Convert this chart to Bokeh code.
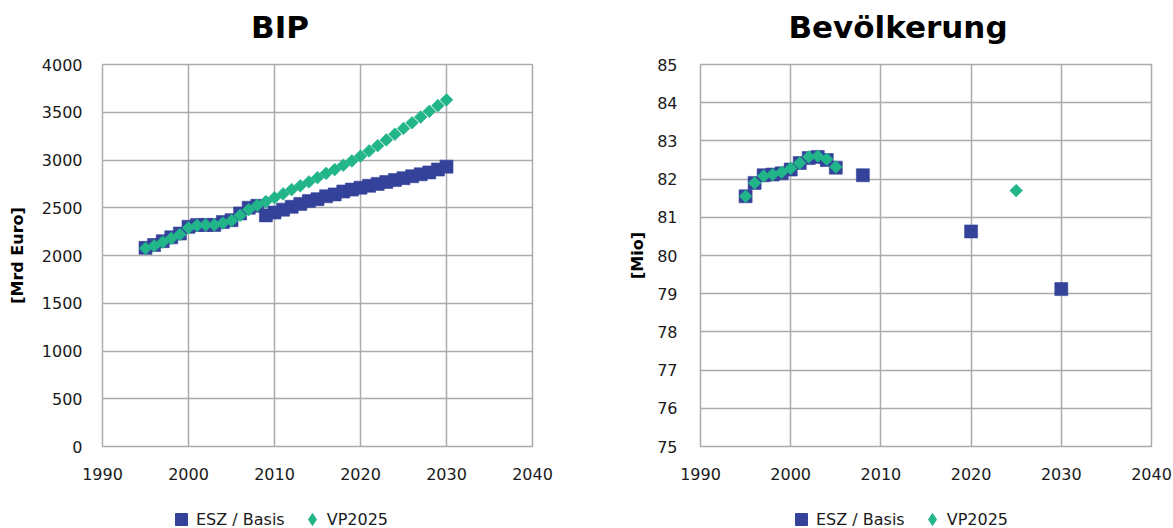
import math
from bokeh.plotting import figure
from bokeh.layouts import row, column
from bokeh.models import (Range1d, FixedTicker, Legend, LegendItem, ColumnDataSource,
                          Label)
from bokeh.embed import file_html
from bokeh.resources import INLINE

# ---------------- data ----------------
titles = ["BIP", "Bevölkerung"]
y_labels = ["[Mrd Euro]", "[Mio]"]
series_names = ["ESZ / Basis", "VP2025"]

bip_years = list(range(1995, 2031))
bip_esz = [2080, 2110, 2150, 2190, 2230, 2300, 2320, 2320, 2320, 2350, 2370, 2440,
           2500, 2520, 2420, 2450, 2480, 2510, 2540, 2570, 2590, 2620, 2640, 2670,
           2690, 2710, 2730, 2750, 2770, 2790, 2810, 2830, 2850, 2870, 2900, 2930]
bip_vp = [2075, 2100, 2140, 2180, 2220, 2290, 2315, 2320, 2320, 2340, 2365, 2420,
          2480, 2525, 2565, 2605, 2645, 2690, 2730, 2770, 2815, 2860, 2900, 2945,
          2990, 3040, 3095, 3150, 3210, 3270, 3330, 3390, 3450, 3510, 3570, 3630]

pop_esz_years = [1995, 1996, 1997, 1998, 1999, 2000, 2001, 2002, 2003, 2004, 2005, 2008, 2020, 2030]
pop_esz = [81.55, 81.9, 82.1, 82.12, 82.15, 82.25, 82.42, 82.55, 82.58, 82.5, 82.3, 82.1, 80.63, 79.12]
pop_vp_years = [1995, 1996, 1997, 1998, 1999, 2000, 2001, 2002, 2003, 2004, 2005, 2025]
pop_vp = [81.55, 81.9, 82.08, 82.12, 82.18, 82.28, 82.42, 82.58, 82.6, 82.52, 82.32, 81.7]

x_ticks = [1990, 2000, 2010, 2020, 2030, 2040]
bip_ticks = [0, 500, 1000, 1500, 2000, 2500, 3000, 3500, 4000]
pop_ticks = [75, 76, 77, 78, 79, 80, 81, 82, 83, 84, 85]

BLUE = "#34429a"
GREEN = "#22b58a"
GRID = "#ababab"
FONT = "DejaVu Sans"


def strip(height):
    s = figure(width=1173, height=height, output_backend="svg", toolbar_location=None,
               x_range=Range1d(0, 1), y_range=Range1d(0, 1), x_axis_type=None,
               y_axis_type=None, min_border=0, min_border_left=0, min_border_right=0,
               min_border_top=0, min_border_bottom=0)
    s.outline_line_color = None
    s.xgrid.visible = False
    s.ygrid.visible = False
    return s


def make_fig(ylabel, y_range, y_ticks, width, bl, br, label_standoff, axis_label_standoff):
    p = figure(width=width, height=440, output_backend="svg", toolbar_location=None,
               x_range=Range1d(1990, 2040), y_range=Range1d(*y_range),
               min_border_left=bl, min_border_right=br, min_border_top=14,
               min_border_bottom=44)
    p.outline_line_color = GRID
    p.outline_line_width = 1.5
    p.background_fill_color = "white"
    p.border_fill_color = "white"
    p.xaxis.ticker = FixedTicker(ticks=x_ticks)
    p.yaxis.ticker = FixedTicker(ticks=y_ticks)
    for ax in (p.xaxis[0], p.yaxis[0]):
        ax.axis_line_color = None
        ax.major_tick_line_color = None
        ax.minor_tick_line_color = None
        ax.major_label_text_font = FONT
        ax.major_label_text_font_size = "16px"
        ax.major_label_text_color = "#1a1a1a"
    p.xaxis.major_label_standoff = 15
    p.yaxis.major_label_standoff = label_standoff
    p.yaxis.axis_label = ylabel
    p.yaxis.axis_label_text_font = FONT
    p.yaxis.axis_label_text_font_size = "16px"
    p.yaxis.axis_label_text_font_style = "bold"
    p.yaxis.axis_label_text_color = "black"
    p.yaxis.axis_label_standoff = axis_label_standoff
    for g in (p.xgrid[0], p.ygrid[0]):
        g.grid_line_color = GRID
        g.grid_line_width = 1.5
    return p


def add_series(p, xs_esz, ys_esz, xs_vp, ys_vp):
    p.scatter(xs_esz, ys_esz, marker="square", size=13, fill_color=BLUE,
              line_color=BLUE, line_alpha=0.6)
    p.scatter(xs_vp, ys_vp, marker="square", angle=math.pi / 4, size=9,
              fill_color=GREEN, line_color=GREEN, line_alpha=0.6)


# title strip above both charts
top = strip(50)
for txt, cx in zip(titles, (279.5, 897.5)):
    top.add_layout(Label(x=cx, y=24, x_units="screen", y_units="screen", text=txt,
                         text_align="center", text_baseline="alphabetic",
                         text_font=FONT, text_font_size="31px",
                         text_font_style="bold", text_color="black"))

p1 = make_fig(y_labels[0], (0, 4000), bip_ticks, 588, 102, 56, 14, 12)
add_series(p1, bip_years, bip_esz, bip_years, bip_vp)

p2 = make_fig(y_labels[1], (75, 85), pop_ticks, 585, 112, 22, 17, 7)
add_series(p2, pop_esz_years, pop_esz, pop_vp_years, pop_vp)

# legend strip below both charts
leg = strip(38)
dummy = ColumnDataSource(dict(x=[float("nan")], y=[float("nan")]))
r_sq = leg.scatter("x", "y", source=dummy, marker="square", fill_color=BLUE,
                   line_color=BLUE, size=12)
r_dm = leg.scatter("x", "y", source=dummy, marker="diamond", fill_color=GREEN,
                   line_color=GREEN, size=12)
for lx in (166, 786):
    legend = Legend(items=[LegendItem(label=series_names[0], renderers=[r_sq]),
                           LegendItem(label=series_names[1], renderers=[r_dm])],
                    orientation="horizontal", location=(lx, -6),
                    glyph_width=30, glyph_height=30, label_standoff=-5, spacing=12,
                    padding=0, margin=0, border_line_color=None,
                    background_fill_alpha=0, label_text_font=FONT,
                    label_text_font_size="16px", label_text_color="#1a1a1a")
    leg.add_layout(legend, "center")

layout = column(top, row(p1, p2), leg, spacing=0)
open("out.html", "w").write(file_html(layout, INLINE))
